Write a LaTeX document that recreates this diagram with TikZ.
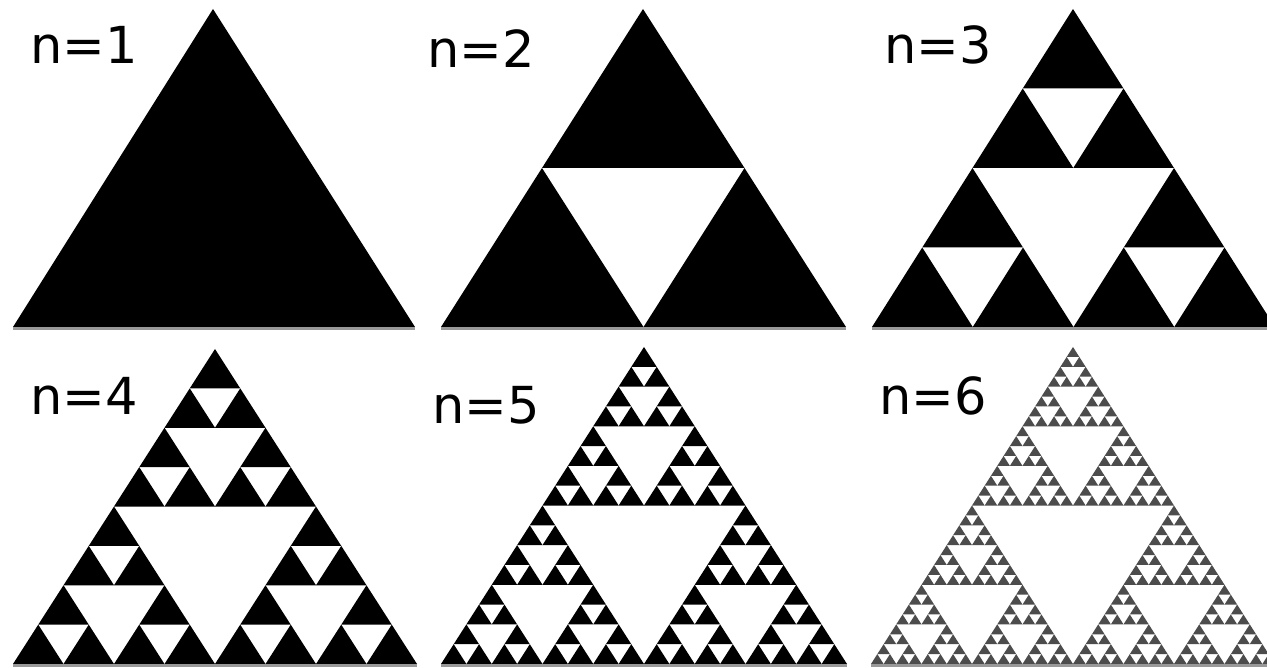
\documentclass[tikz,border=0pt]{standalone}
\usepackage{fontspec}
\newfontfamily\lblfont{DejaVu Sans}
\newcommand\sierpdraw[7]{%
  \ifnum#1=0
    \fill (#2,#3)--(#4,#5)--(#6,#7)--cycle;
  \else
    \pgfmathsetmacro\sxa{(#2+#4)/2}\pgfmathsetmacro\sya{(#3+#5)/2}%
    \pgfmathsetmacro\sxb{(#2+#6)/2}\pgfmathsetmacro\syb{(#3+#7)/2}%
    \pgfmathsetmacro\sxc{(#4+#6)/2}\pgfmathsetmacro\syc{(#5+#7)/2}%
    \edef\sierpnext{%
      \noexpand\sierpdraw{\the\numexpr#1-1\relax}{#2}{#3}{\sxa}{\sya}{\sxb}{\syb}%
      \noexpand\sierpdraw{\the\numexpr#1-1\relax}{\sxa}{\sya}{#4}{#5}{\sxc}{\syc}%
      \noexpand\sierpdraw{\the\numexpr#1-1\relax}{\sxb}{\syb}{\sxc}{\syc}{#6}{#7}}%
    \sierpnext
  \fi}
\tikzset{
  lbl/.style={anchor=base west, inner sep=0pt, font=\lblfont\fontsize{51}{51}\selectfont},
  baseline/.style={draw=black!40, line width=3pt}
}
\begin{document}
\begin{tikzpicture}[x=1pt,y=-1pt]
\useasboundingbox (0,0) rectangle (1267,668);
\fill[white] (0,0) rectangle (1267,668);
\clip (0,0) rectangle (1267,668);
\begin{scope}[fill=black]
\sierpdraw{0}{213}{9}{13}{327}{415}{327}
\sierpdraw{1}{643}{9}{441}{327}{846}{327}
\sierpdraw{2}{1073}{9}{872}{327}{1275}{327}
\sierpdraw{3}{215}{349}{13}{664}{417}{664}
\sierpdraw{4}{644}{347}{441}{664}{847}{664}
\end{scope}
\begin{scope}[fill=black!70]
\sierpdraw{5}{1073}{347}{871}{664}{1275}{664}
\end{scope}
% base lines
\coordinate (b1l) at (13,328.5);  \coordinate (b1r) at (415,328.5);
\coordinate (b2l) at (441,328.5); \coordinate (b2r) at (846,328.5);
\coordinate (b3l) at (872,328.5); \coordinate (b3r) at (1275,328.5);
\coordinate (b4l) at (13,665.5);  \coordinate (b4r) at (417,665.5);
\coordinate (b5l) at (441,665.5); \coordinate (b5r) at (847,665.5);
\coordinate (b6l) at (871,665.5); \coordinate (b6r) at (1275,665.5);
\draw[baseline] (b1l) -- (b1r);
\draw[baseline] (b2l) -- (b2r);
\draw[baseline] (b3l) -- (b3r);
\draw[baseline] (b4l) -- (b4r);
\draw[baseline] (b5l) -- (b5r);
\draw[baseline] (b6l) -- (b6r);
% labels
\node[lbl] (l1) at (30,64) {n=1};
\node[lbl] (l2) at (427,68) {n=2};
\node[lbl] (l3) at (884,64) {n=3};
\node[lbl] (l4) at (30,414) {n=4};
\node[lbl] (l5) at (432,423) {n=5};
\node[lbl] (l6) at (879,414) {n=6};
\end{tikzpicture}
\end{document}
